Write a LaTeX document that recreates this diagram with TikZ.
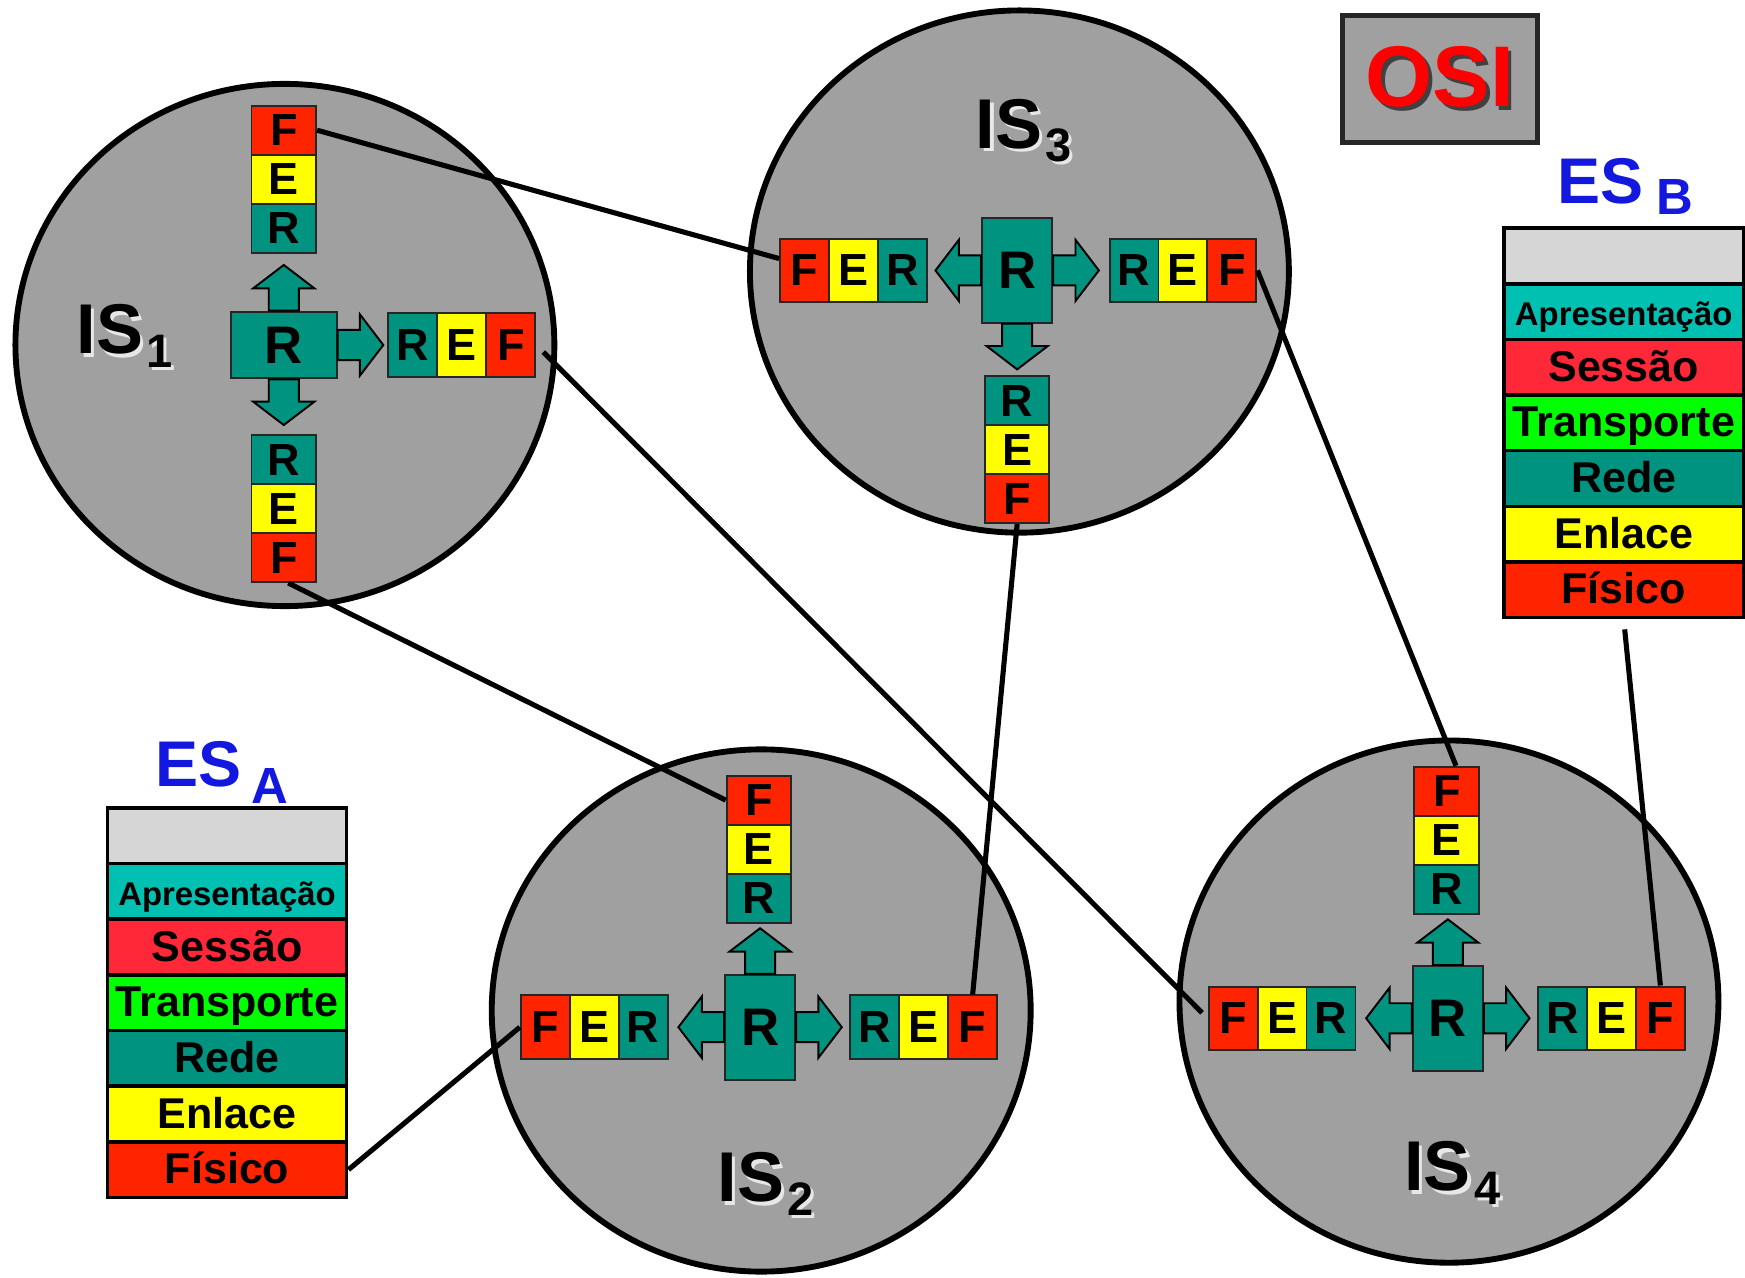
\documentclass[tikz,border=0pt]{standalone}
\usepackage{fontspec}
\setmainfont{Liberation Sans}
\usetikzlibrary{shapes.geometric}

\definecolor{isgray}{RGB}{160,160,160}
\definecolor{cF}{RGB}{255,36,0}
\definecolor{cE}{RGB}{255,255,0}
\definecolor{cR}{RGB}{0,148,128}
\definecolor{esTop}{RGB}{214,214,214}
\definecolor{esApr}{RGB}{0,192,178}
\definecolor{esSes}{RGB}{255,40,56}
\definecolor{esTra}{RGB}{0,255,0}
\colorlet{esRed}{cR}
\colorlet{esEnl}{cE}
\colorlet{esFis}{cF}
\definecolor{esblue}{RGB}{18,24,222}

\newcommand{\fsz}[1]{\fontsize{#1}{#1}\selectfont}
\newcommand{\shadowed}[2]{\makebox[0pt][l]{\hspace{0.3mm}\raisebox{-0.3mm}{\color{#1}#2}}#2}
\newcommand{\issub}[1]{\hspace{0.3mm}\raisebox{-1.2mm}{\fsz{12}#1}}

\tikzset{
  lay/.style={draw=black!85, line width=0.5pt, inner sep=0pt, fill=c#1,
    font=\bfseries\fsz{11.5}},
  vlay/.style={minimum width=5.8mm, minimum height=4.4mm},
  hlay/.style={minimum width=4.4mm, minimum height=5.7mm},
  core/.style={lay=R, font=\bfseries\fsz{13.5}},
  iscircle/.style={ellipse, draw=black, line width=1.5pt, fill=isgray,
    inner sep=0pt, minimum width=48.4mm, minimum height=46.9mm},
  islabel/.style={font=\bfseries\fsz{18}, inner sep=0pt, anchor=base west},
  eslabel/.style={font=\bfseries\fsz{16.5}, text=esblue, inner sep=0pt,
    anchor=base west},
  esrow/.style={draw=black, line width=0.9pt, fill=es#1, inner sep=0pt,
    minimum width=21.5mm, minimum height=5mm, text height=0.72em,
    text depth=0pt},
  link/.style={line width=1.3pt},
  blkarrow/.style={draw=black, line width=0.5pt, fill=cR},
  blk/.pic={
    \draw[blkarrow] (0,-13.5) -- (20,-13.5) -- (20,-27.5) -- (41,0) --
      (20,27.5) -- (20,13.5) -- (0,13.5) -- cycle;
  },
}

\begin{document}
\begin{tikzpicture}[x=0.01cm,y=-0.01cm]
  \useasboundingbox (0,0) rectangle (1568,1148);

  % intermediate systems
  \node[iscircle] (is1) at (256,310) {};
  \node[iscircle] (is3) at (916,244) {};
  \node[iscircle] (is2) at (684,908) {};
  \node[iscircle] (is4) at (1302,900) {};

  \node[islabel] (is1-lab) at (68,318)
    {\shadowed{white!75!isgray}{IS\issub{1}}};
  \node[islabel] (is3-lab) at (876,133)
    {\shadowed{white!75!isgray}{IS\issub{3}}};
  \node[islabel] (is2-lab) at (644,1080)
    {\shadowed{white!75!isgray}{IS\issub{2}}};
  \node[islabel] (is4-lab) at (1261,1070)
    {\shadowed{white!75!isgray}{IS\issub{4}}};

  % IS1
  \node[core, minimum width=9.5mm, minimum height=6mm] (c1) at (255,310) {R};
  \pic[rotate=90] at (c1.north) {blk};
  \pic at (c1.east) {blk};
  \pic[rotate=-90] at (c1.south) {blk};
  \foreach \l [count=\i] in {F,E,R}
    \node[lay=\l, vlay] (i1t-\l) at (255,{117+44*(\i-1)}) {\l};
  \foreach \l [count=\i] in {R,E,F}
    \node[lay=\l, hlay] (i1r-\l) at ({371+44*(\i-1)},310) {\l};
  \foreach \l [count=\i] in {R,E,F}
    \node[lay=\l, vlay] (i1b-\l) at (255,{413+44*(\i-1)}) {\l};

  % IS3
  \node[core, minimum width=6.3mm, minimum height=9.4mm] (c3) at (914,243) {R};
  \pic[rotate=180] at (c3.west) {blk};
  \pic at (c3.east) {blk};
  \pic[rotate=-90] at (c3.south) {blk};
  \foreach \l [count=\i] in {F,E,R}
    \node[lay=\l, hlay] (i3l-\l) at ({723+44*(\i-1)},243) {\l};
  \foreach \l [count=\i] in {R,E,F}
    \node[lay=\l, hlay] (i3r-\l) at ({1019+44*(\i-1)},243) {\l};
  \foreach \l [count=\i] in {R,E,F}
    \node[lay=\l, vlay] (i3b-\l) at (914,{360+44*(\i-1)}) {\l};

  % IS2
  \node[core, minimum width=6.3mm, minimum height=9.4mm] (c2) at (683,923) {R};
  \pic[rotate=90] at (c2.north) {blk};
  \pic[rotate=180] at (c2.west) {blk};
  \pic at (c2.east) {blk};
  \foreach \l [count=\i] in {F,E,R}
    \node[lay=\l, vlay] (i2t-\l) at (682,{719+44*(\i-1)}) {\l};
  \foreach \l [count=\i] in {F,E,R}
    \node[lay=\l, hlay] (i2l-\l) at ({490+44*(\i-1)},923) {\l};
  \foreach \l [count=\i] in {R,E,F}
    \node[lay=\l, hlay] (i2r-\l) at ({786+44*(\i-1)},923) {\l};

  % IS4
  \node[core, minimum width=6.3mm, minimum height=9.4mm] (c4) at (1301,915) {R};
  \pic[rotate=90] at (c4.north) {blk};
  \pic[rotate=180] at (c4.west) {blk};
  \pic at (c4.east) {blk};
  \foreach \l [count=\i] in {F,E,R}
    \node[lay=\l, vlay] (i4t-\l) at (1300,{711+44*(\i-1)}) {\l};
  \foreach \l [count=\i] in {F,E,R}
    \node[lay=\l, hlay] (i4l-\l) at ({1108+44*(\i-1)},915) {\l};
  \foreach \l [count=\i] in {R,E,F}
    \node[lay=\l, hlay] (i4r-\l) at ({1404+44*(\i-1)},915) {\l};

  % end systems
  \node[eslabel] (esA-lab) at (139,707) {ES\hspace{0.9mm}\raisebox{-1.5mm}{\fsz{13}A}};
  \node[eslabel] (esB-lab) at (1399,183) {ES\hspace{1.1mm}\raisebox{-1mm}{\fsz{13}B}};
  \foreach \t/\s/\f [count=\i] in {{}/Top/11, Apresentação/Apr/8.4,
      Sessão/Ses/11, Transporte/Tra/11, Rede/Red/11, Enlace/Enl/11,
      Físico/Fis/11} {
    \node[esrow=\s, font=\bfseries\fsz{\f}] (esA-\i) at (204,{751+50*(\i-1)}) {\t};
    \node[esrow=\s, font=\bfseries\fsz{\f}] (esB-\i) at (1459,{230+50*(\i-1)}) {\t};
  }

  \node[draw=black!85, line width=1.2pt, fill=isgray, minimum width=17.5mm,
    minimum height=11.4mm, text=red, font=\bfseries\fsz{22}] (osi)
    at (1294,71) {\shadowed{black!75}{OSI}};

  % links
  \draw[link] (i1t-F.east) -- (i3l-F.155);
  \draw[link, shorten <=0.9mm, shorten >=0.7mm] (i1r-F.east) -- (i4l-F.west);
  \draw[link] (i1b-F.-80) -- (i2t-F.west);
  \draw[link] (i3r-F.east) -- (i4t-F.70);
  \draw[link] (i3b-F.south) -- (i2r-F.north);
  \draw[link, shorten <=0.9mm] (esB-7.south) -- (i4r-F.north);
  \draw[link] (esA-7.east) -- (i2l-F.west);
\end{tikzpicture}
\end{document}
